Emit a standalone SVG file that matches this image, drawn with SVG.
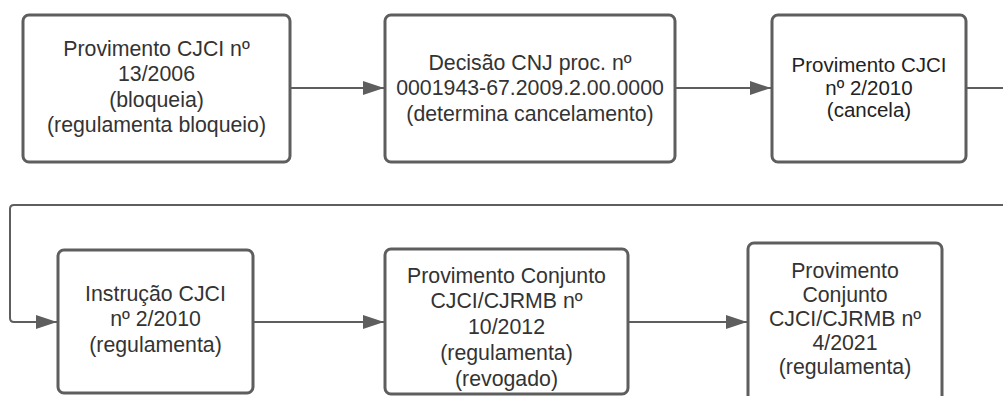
<svg xmlns="http://www.w3.org/2000/svg" width="1003" height="396" viewBox="0 0 1003 396">
<style>
.box{fill:#fff;stroke:#5e5e5e;stroke-width:3}
.t{font-family:"Liberation Sans",Arial,sans-serif;font-size:21.3px;fill:#333;text-anchor:middle}
.t3{font-size:20.5px;fill:#222}
.c{fill:none;stroke:#5e5e5e;stroke-width:2;marker-end:url(#ah)}
</style>
<defs>
<marker id="ah" markerUnits="userSpaceOnUse" markerWidth="22" markerHeight="14" refX="21" refY="7" orient="auto">
<path d="M0,0 L21,7 L0,14 Z" fill="#5e5e5e"/>
</marker>
</defs>
<rect width="1003" height="396" fill="#fff"/>
<g id="connectors">
<path class="c" d="M290,88 H384"/>
<path class="c" d="M675,88 H771"/>
<path class="c" d="M966,88 H1006 Q1010,88 1010,92 V201 Q1010,205 1006,205 H14 Q10,205 10,209 V318 Q10,322 14,322 H57"/>
<path class="c" d="M253,322 H384"/>
<path class="c" d="M628,322 H747"/>
</g>
<g id="n1">
<rect class="box" x="23" y="15" width="267" height="147" rx="6"/>
<text class="t" x="156.5" y="55.5">Provimento CJCI nº</text>
<text class="t" x="156.5" y="81.1">13/2006</text>
<text class="t" x="156.5" y="106.7">(bloqueia)</text>
<text class="t" x="156.5" y="132.3">(regulamenta bloqueio)</text>
</g>
<g id="n2">
<rect class="box" x="385" y="15" width="290" height="147" rx="6"/>
<text class="t" x="530" y="69.5">Decisão CNJ proc. nº</text>
<text class="t" x="530" y="95">0001943-67.2009.2.00.0000</text>
<text class="t" x="530" y="120.5">(determina cancelamento)</text>
</g>
<g id="n3">
<rect class="box" x="772" y="15" width="194" height="147" rx="6"/>
<text class="t t3" x="869" y="72">Provimento CJCI</text>
<text class="t t3" x="869" y="94.5">nº 2/2010</text>
<text class="t t3" x="869" y="117">(cancela)</text>
</g>
<g id="n4">
<rect class="box" x="58" y="250" width="195" height="143" rx="6"/>
<text class="t" x="155.5" y="300.5">Instrução CJCI</text>
<text class="t" x="155.5" y="326">nº 2/2010</text>
<text class="t" x="155.5" y="352">(regulamenta)</text>
</g>
<g id="n5">
<rect class="box" x="385" y="249" width="243" height="145" rx="6"/>
<text class="t" x="506.5" y="282.5">Provimento Conjunto</text>
<text class="t" x="506.5" y="308">CJCI/CJRMB nº</text>
<text class="t" x="506.5" y="334">10/2012</text>
<text class="t" x="506.5" y="360">(regulamenta)</text>
<text class="t" x="506.5" y="385.5">(revogado)</text>
</g>
<g id="n6">
<rect class="box" x="748" y="243" width="194" height="160" rx="6"/>
<text class="t" x="845" y="277.5">Provimento</text>
<text class="t" x="845" y="301.5">Conjunto</text>
<text class="t" x="845" y="325.5">CJCI/CJRMB nº</text>
<text class="t" x="845" y="349.5">4/2021</text>
<text class="t" x="845" y="373.5">(regulamenta)</text>
</g>
</svg>
